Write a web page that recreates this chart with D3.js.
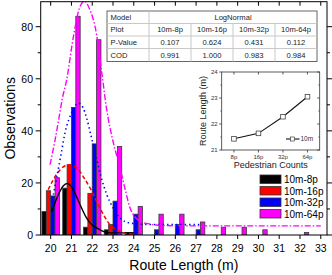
<!DOCTYPE html>
<html><head><meta charset="utf-8">
<script src="https://cdn.jsdelivr.net/npm/d3@7"></script>
<style>
html,body{margin:0;padding:0;background:#fff;}
svg{display:block;font-family:"Liberation Sans",Arial,sans-serif;}
</style></head>
<body>
<svg id="chart" width="332" height="275"></svg>
<script>
// ---------------- data ----------------
const seriesNames = ["10m-8p", "10m-16p", "10m-32p", "10m-64p"];
const seriesColors = ["#000000", "#ff0000", "#0000ff", "#ff00ff"];
const routeLengths = [20, 21, 22, 23, 24, 25, 26, 27, 28, 29, 30, 31, 32, 33];
const obs8p  = [9, 18, 3, 2, 1, 0, 0, 0, 0, 0, 0, 0, 0, 0];
const obs16p = [17, 27, 16, 4, 1, 0, 0, 0, 0, 0, 0, 0, 0, 0];
const obs32p = [15, 49, 35, 13, 8, 2, 4, 2, 0, 0, 0, 0, 0, 0];
const obs64p = [22, 84, 75, 34, 11, 8, 8, 5, 3, 3, 2, 0, 1, 0];

// fitted curves: [route length, observations]
const fit8p = [[20.05,9],[20.37,15.5],[20.6,18.8],[20.8,19.8],[21.0,18.6],[21.2,15.5],[21.41,11.7],[21.73,6.5],[22.0,3.8],[22.21,2.7],[22.5,1.5],[22.7,1.0],[23.0,0.8],[23.5,0.8],[24.0,0.8]];
const fit16p = [[19.88,17.4],[20.13,21.3],[20.45,25],[20.85,27],[21.25,25.8],[21.6,22],[21.9,18],[22.15,14],[22.37,10.4],[22.6,7],[22.85,4],[23.1,2.3],[23.34,1.4],[23.6,0.6],[24.0,0.2]];
const fit32p = [[20.13,15.5],[20.29,22],[20.5,31],[20.69,39.2],[21.0,46.8],[21.33,50.6],[21.55,49],[21.73,45],[21.93,38.5],[22.13,32],[22.4,23],[22.7,15.5],[23.0,10.5],[23.34,6.5],[23.82,4.6],[24.5,4.1],[25.5,4],[26.5,4],[27.3,4]];
const fit64p = [[19.97,27],[20.2,36],[20.4,45],[20.55,52],[20.77,59.6],[21.09,76],[21.38,87],[21.62,89.8],[21.86,87],[22.21,77],[22.45,63],[22.7,48],[23.0,36],[23.34,25.8],[23.6,17],[23.82,10.4],[24.05,7],[24.3,5.3],[24.78,4.2],[25.5,3.6],[27,3.5],[30,3.5],[33,3.5]];

const yMajorTicks = [0, 20, 40, 60, 80];
const yMinorTicks = [10, 30, 50, 70];

// table
const tableModel = "LogNormal";
const tableRowLabels = ["Model", "Plot", "P-Value", "COD"];
const pValues = ["0.107", "0.624", "0.431", "0.112"];
const codValues = ["0.991", "1.000", "0.983", "0.984"];

// inset
const insetCats = ["8p", "16p", "32p", "64p"];
const insetValues = [21.43, 21.64, 22.28, 23.05];
const insetYTicks = [21, 22, 23, 24];

// ---------------- chart ----------------
const svg = d3.select("#chart");
const L = 40.7, R = 327, T = 1.7, B = 235;
const x = d3.scaleLinear().domain([19.52, 33.3]).range([L, R]);
const y = d3.scaleLinear().domain([0, 89.6]).range([B, T]);

svg.append("defs").append("clipPath").attr("id", "plotclip")
  .append("rect").attr("x", L).attr("y", T).attr("width", R - L).attr("height", B - T);

const allObs = [obs8p, obs16p, obs32p, obs64p];
const inner = d3.scaleBand().domain(seriesNames).range([-0.42, 0.42]);

const barG = svg.append("g").attr("clip-path", "url(#plotclip)");
seriesNames.forEach((name, si) => {
  const data = routeLengths.map((r, i) => ({r, v: allObs[si][i]})).filter(d => d.v > 0);
  barG.selectAll(null).data(data).enter().append("rect")
    .attr("x", d => x(d.r + inner(name)))
    .attr("width", d => x(d.r + inner(name) + inner.bandwidth()) - x(d.r + inner(name)))
    .attr("y", d => y(d.v))
    .attr("height", d => y(0) - y(d.v))
    .attr("fill", seriesColors[si])
    .attr("stroke", "#3a3a3a").attr("stroke-width", 0.8);
});

// fits
const line = d3.line().x(d => x(d[0])).y(d => y(d[1])).curve(d3.curveMonotoneX);
const fitG = svg.append("g").attr("clip-path", "url(#plotclip)").attr("fill", "none");
fitG.append("path").attr("d", line(fit8p)).attr("stroke", "#000").attr("stroke-width", 1.4);
fitG.append("path").attr("d", line(fit16p)).attr("stroke", "#ff0000").attr("stroke-width", 1.5).attr("stroke-dasharray", "4,2.5");
fitG.append("path").attr("d", line(fit32p)).attr("stroke", "#0000ff").attr("stroke-width", 1.6).attr("stroke-dasharray", "1.4,3").attr("stroke-linecap", "butt");
fitG.append("path").attr("d", line(fit64p)).attr("stroke", "#ff00ff").attr("stroke-width", 1.4).attr("stroke-dasharray", "6,2,1.5,2");

// frame
svg.append("rect").attr("x", L).attr("y", T).attr("width", R - L).attr("height", B - T)
  .attr("fill", "none").attr("stroke", "#000").attr("stroke-width", 1);

// axes ticks
const axG = svg.append("g").attr("stroke", "#000").attr("stroke-width", 1);
routeLengths.forEach(r => {
  axG.append("line").attr("x1", x(r)).attr("x2", x(r)).attr("y1", B).attr("y2", B + 4);
  axG.append("line").attr("x1", x(r)).attr("x2", x(r)).attr("y1", T).attr("y2", T + 4);
});
yMajorTicks.forEach(v => {
  axG.append("line").attr("x1", L - 5).attr("x2", L).attr("y1", y(v)).attr("y2", y(v));
  axG.append("line").attr("x1", R).attr("x2", R + 5).attr("y1", y(v)).attr("y2", y(v));
});
yMinorTicks.forEach(v => {
  axG.append("line").attr("x1", L - 3).attr("x2", L).attr("y1", y(v)).attr("y2", y(v));
  axG.append("line").attr("x1", R).attr("x2", R + 3).attr("y1", y(v)).attr("y2", y(v));
});

svg.append("g").selectAll("text").data(routeLengths).enter().append("text")
  .attr("x", d => x(d)).attr("y", 252).attr("text-anchor", "middle")
  .attr("font-size", 10.5).text(d => d);
svg.append("g").selectAll("text").data(yMajorTicks).enter().append("text")
  .attr("x", 33).attr("y", d => y(d) + 4).attr("text-anchor", "end")
  .attr("font-size", 10.5).text(d => d);

svg.append("text").attr("x", (L + R) / 2).attr("y", 270).attr("text-anchor", "middle")
  .attr("font-size", 14).text("Route Length (m)");
svg.append("text").attr("transform", `translate(15,${(T + B) / 2}) rotate(-90)`)
  .attr("text-anchor", "middle").attr("font-size", 14).text("Observations");

// ---------------- table ----------------
const tX = [107, 149, 191, 233, 275, 317];
const tY = [11, 23.5, 36, 48.5, 61.5];
const tG = svg.append("g");
tG.append("rect").attr("x", tX[0]).attr("y", tY[0]).attr("width", tX[5] - tX[0]).attr("height", tY[4] - tY[0])
  .attr("fill", "#fff").attr("stroke", "#666").attr("stroke-width", 1);
for (let i = 1; i < 4; i++) {
  tG.append("line").attr("x1", tX[0]).attr("x2", tX[5]).attr("y1", tY[i]).attr("y2", tY[i])
    .attr("stroke", "#c8c8c8").attr("stroke-width", 1);
}
tG.append("line").attr("x1", tX[1]).attr("x2", tX[1]).attr("y1", tY[0]).attr("y2", tY[4]).attr("stroke", "#c8c8c8");
for (let j = 2; j < 5; j++) {
  tG.append("line").attr("x1", tX[j]).attr("x2", tX[j]).attr("y1", tY[1]).attr("y2", tY[4]).attr("stroke", "#c8c8c8");
}
tableRowLabels.forEach((lab, i) => {
  tG.append("text").attr("x", tX[0] + 3.5).attr("y", (tY[i] + tY[i + 1]) / 2 + 2.7)
    .attr("font-size", 7.6).attr("fill", "#222").text(lab);
});
tG.append("text").attr("x", (tX[1] + tX[5]) / 2).attr("y", (tY[0] + tY[1]) / 2 + 2.7)
  .attr("text-anchor", "middle").attr("font-size", 7.6).attr("fill", "#222").text(tableModel);
[seriesNames, pValues, codValues].forEach((row, ri) => {
  row.forEach((val, j) => {
    tG.append("text").attr("x", (tX[j + 1] + tX[j + 2]) / 2).attr("y", (tY[ri + 1] + tY[ri + 2]) / 2 + 2.7)
      .attr("text-anchor", "middle").attr("font-size", 7.6).attr("fill", "#222").text(val);
  });
});

// ---------------- inset ----------------
const iL = 221.7, iR = 319.7, iT = 72, iB = 150;
const ix = d3.scalePoint().domain(insetCats).range([iL, iR]).padding(0.5);
const iy = d3.scaleLinear().domain([21, 24]).range([iB, iT]);
const iG = svg.append("g");
iG.append("rect").attr("x", iL).attr("y", iT).attr("width", iR - iL).attr("height", iB - iT)
  .attr("fill", "#fff").attr("stroke", "#333").attr("stroke-width", 0.8);
insetYTicks.forEach(v => {
  iG.append("line").attr("x1", iL - 2.5).attr("x2", iL).attr("y1", iy(v)).attr("y2", iy(v)).attr("stroke", "#333").attr("stroke-width", 0.8);
  iG.append("line").attr("x1", iR - 2.5).attr("x2", iR).attr("y1", iy(v)).attr("y2", iy(v)).attr("stroke", "#333").attr("stroke-width", 0.8);
  iG.append("text").attr("x", iL - 4).attr("y", iy(v) + 2).attr("text-anchor", "end")
    .attr("font-size", 6).attr("fill", "#333").text(v);
});
[21.5, 22.5, 23.5].forEach(v => {
  iG.append("line").attr("x1", iL - 1.5).attr("x2", iL).attr("y1", iy(v)).attr("y2", iy(v)).attr("stroke", "#333").attr("stroke-width", 0.6);
  iG.append("line").attr("x1", iR - 1.5).attr("x2", iR).attr("y1", iy(v)).attr("y2", iy(v)).attr("stroke", "#333").attr("stroke-width", 0.6);
});
insetCats.forEach(c => {
  iG.append("line").attr("x1", ix(c)).attr("x2", ix(c)).attr("y1", iB).attr("y2", iB + 2.5).attr("stroke", "#333").attr("stroke-width", 0.8);
  iG.append("line").attr("x1", ix(c)).attr("x2", ix(c)).attr("y1", iT).attr("y2", iT + 2.5).attr("stroke", "#333").attr("stroke-width", 0.8);
  iG.append("text").attr("x", ix(c)).attr("y", iB + 9).attr("text-anchor", "middle")
    .attr("font-size", 6).attr("fill", "#333").text(c);
});
const iline = d3.line().x((d, i) => ix(insetCats[i])).y(d => iy(d));
iG.append("path").attr("d", iline(insetValues)).attr("fill", "none").attr("stroke", "#111").attr("stroke-width", 1.1);
iG.selectAll(null).data(insetValues).enter().append("rect")
  .attr("x", (d, i) => ix(insetCats[i]) - 2.3).attr("y", d => iy(d) - 2.3)
  .attr("width", 4.6).attr("height", 4.6)
  .attr("fill", "#fff").attr("stroke", "#444").attr("stroke-width", 0.8);
// inset legend
iG.append("line").attr("x1", 286).attr("x2", 299.5).attr("y1", 139).attr("y2", 139).attr("stroke", "#111").attr("stroke-width", 1.1);
iG.append("rect").attr("x", 290.5).attr("y", 137).attr("width", 4).attr("height", 4).attr("fill", "#fff").attr("stroke", "#444").attr("stroke-width", 0.7);
iG.append("text").attr("x", 300.5).attr("y", 141.2).attr("font-size", 6.5).attr("fill", "#333").text("10m");
iG.append("text").attr("x", (iL + iR) / 2).attr("y", 168).attr("text-anchor", "middle")
  .attr("font-size", 9).attr("fill", "#222").text("Pedestrian Counts");
iG.append("text").attr("transform", `translate(206,${(iT + iB) / 2}) rotate(-90)`)
  .attr("text-anchor", "middle").attr("font-size", 9).attr("fill", "#222").text("Route Length (m)");

// ---------------- legend ----------------
const lg = svg.append("g");
seriesNames.forEach((n, i) => {
  const yy = 175 + i * 11.5;
  lg.append("rect").attr("x", 260).attr("y", yy).attr("width", 21).attr("height", 8.5)
    .attr("fill", seriesColors[i]).attr("stroke", "#333").attr("stroke-width", 0.8);
  lg.append("text").attr("x", 284).attr("y", yy + 8).attr("font-size", 10).text(n);
});
</script>
</body></html>
